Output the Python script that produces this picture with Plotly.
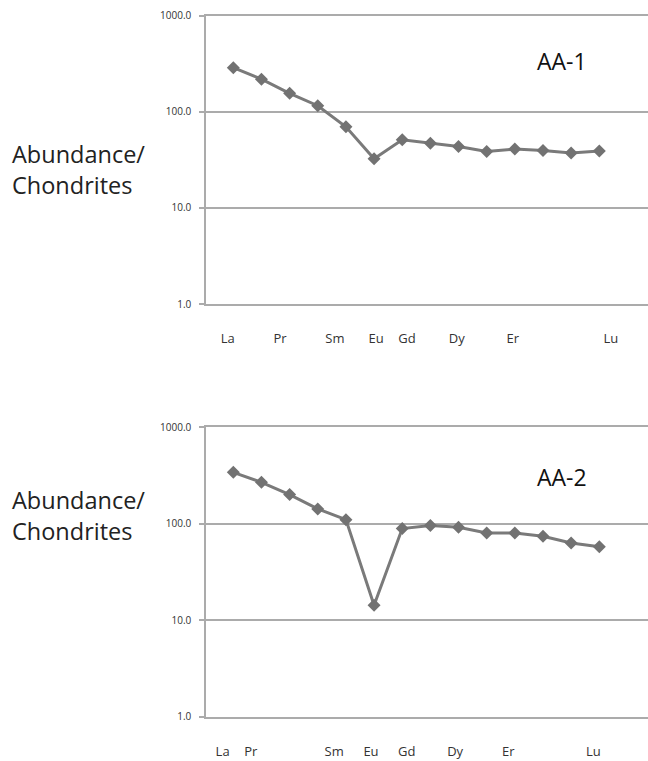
import plotly.graph_objects as go

# Rare earth elements, chondrite-normalised abundances
elements = ["La", "Ce", "Pr", "Nd", "Sm", "Eu", "Gd", "Tb", "Dy", "Ho", "Er", "Tm", "Yb", "Lu"]
aa1_values = [289, 219, 156, 116, 70, 32.6, 51.3, 47.3, 43.7, 38.8, 41, 39.7, 37.3, 39.1]
aa2_values = [340, 268, 200, 142, 110, 14.3, 89, 95.6, 91.8, 80, 80, 74, 63, 57.5]

# Element labels shown under each panel and where they sit along the element axis
label_text = ["La", "Pr", "Sm", "Eu", "Gd", "Dy", "Er", "Lu"]
aa1_label_pos = [0.80, 2.66, 4.61, 6.07, 7.17, 8.94, 10.93, 14.41]
aa2_label_pos = [0.62, 1.62, 4.58, 5.89, 7.16, 8.88, 10.77, 13.79]

y_tickvals = [1, 10, 100, 1000]
y_ticktext = ["1.0", "10.0", "100.0", "1000.0"]

W, H = 648, 761
GRID = "#ababab"
LINE = "#7a7a7a"
FONT = "Open Sans"

x_pos = list(range(1, len(elements) + 1))

fig = go.Figure()

# name, values, label positions, axes, (top px, bottom px), title px, side label px
panels = [
    ("AA-1", aa1_values, aa1_label_pos, "x", "y", (8, 302), 54, 165),
    ("AA-2", aa2_values, aa2_label_pos, "x2", "y2", (427.5, 723), 478, 518),
]

for name, vals, lpos, xa, ya, (top_px, bot_px), title_px, side_px in panels:
    fig.add_trace(go.Scatter(
        x=x_pos, y=vals, mode="lines+markers", name=name,
        text=elements, hovertemplate="%{text}: %{y}<extra></extra>",
        line=dict(color=LINE, width=3),
        marker=dict(symbol="diamond", size=10, color="#727272"),
        xaxis=xa, yaxis=ya, showlegend=False,
    ))
    dom = [1 - bot_px / H, 1 - top_px / H]
    xkey = "xaxis" if xa == "x" else "xaxis2"
    ykey = "yaxis" if ya == "y" else "yaxis2"
    fig.update_layout({
        xkey: dict(
            domain=[206 / W, 1.0], range=[0.03, 15.73], anchor=ya,
            showgrid=False, zeroline=False,
            showline=True, mirror=True, linecolor=GRID, linewidth=1.5,
            ticks="", tickmode="array", tickvals=lpos, ticktext=label_text,
            tickfont=dict(family=FONT, size=13, color="#333333"),
            ticklabelstandoff=22,
        ),
        ykey: dict(
            domain=dom, type="log", range=[0, 3], anchor=xa,
            tickmode="array", tickvals=y_tickvals, ticktext=y_ticktext,
            showgrid=True, gridcolor=GRID, gridwidth=1.5,
            showline=True, linecolor=GRID, linewidth=1.5,
            ticks="outside", ticklen=5, tickcolor=GRID, tickwidth=1.5,
            tickfont=dict(family=FONT, size=10, color="#333333"),
            ticklabelstandoff=6, zeroline=False,
        ),
    })
    fig.add_annotation(
        x=562 / W, y=1 - title_px / H, xref="paper", yref="paper",
        text=name, showarrow=False, xanchor="center", yanchor="middle",
        font=dict(family=FONT, size=23, color="#111111"),
    )
    fig.add_annotation(
        x=10 / W, y=1 - side_px / H, xref="paper", yref="paper",
        text="Abundance/<br>Chondrites", showarrow=False, align="left",
        xanchor="left", yanchor="middle",
        font=dict(family=FONT, size=23.5, color="#222222"),
    )

fig.update_layout(
    width=W, height=H, margin=dict(l=0, r=0, t=0, b=0),
    paper_bgcolor="white", plot_bgcolor="white",
)

fig.write_html("out.html")
